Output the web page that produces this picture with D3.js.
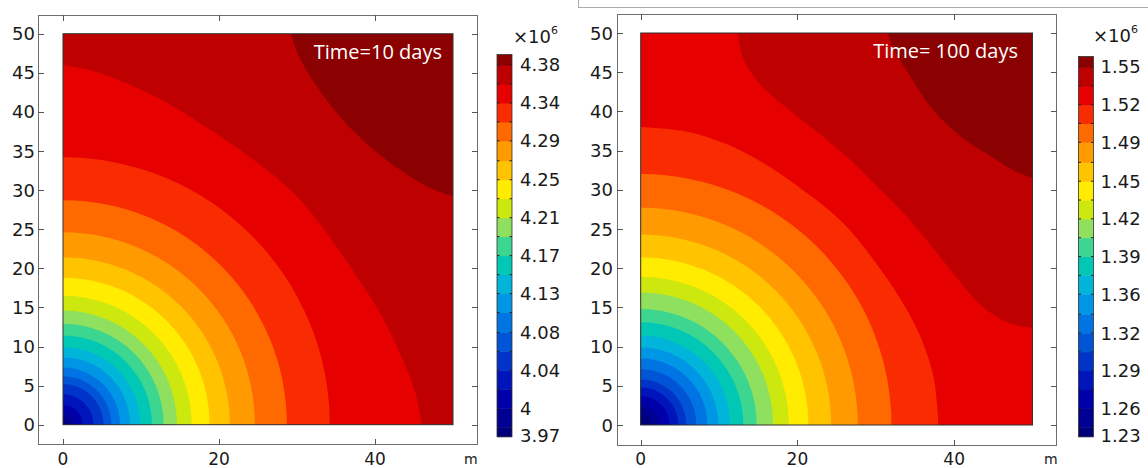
<!DOCTYPE html>
<html><head><meta charset="utf-8">
<script src="https://cdn.jsdelivr.net/npm/d3@7"></script>
<style>html,body{margin:0;padding:0;background:#fff;}svg{display:block;}</style>
</head><body>
<svg id="chart" width="1148" height="468"></svg>
<script>
// ---------------- DATA ----------------
const bandColors = ['#00007a','#000092','#0000aa','#0014bc','#0034c8','#0054d6','#0074e2','#0096e6',
  '#00b4da','#00c8b4','#3cd690','#8ee05e','#cce80e','#ffec00','#ffc300','#ff9b00','#ff6a00',
  '#f82c00','#e60000','#bf0000','#8b0000'];

const xTicks = [0, 20, 40];
const yTicks = [0, 5, 10, 15, 20, 25, 30, 35, 40, 45, 50];

// Left panel: Time = 10 days
const leftTitle = 'Time=10 days';
const leftRange = [3.9686, 4.3916];
const leftLevels = [3.979, 4.000, 4.021, 4.042, 4.063, 4.084, 4.106, 4.127, 4.148, 4.169,
  4.190, 4.211, 4.232, 4.253, 4.274, 4.296, 4.317, 4.338, 4.359, 4.380];
const leftTickValues = [3.970, 4.000, 4.042, 4.084, 4.127, 4.169, 4.211, 4.253, 4.296, 4.338, 4.380];
const leftTickLabels = ['3.97','4','4.04','4.08','4.13','4.17','4.21','4.25','4.29','4.34','4.38'];
// contour boundaries (m): circular ones by radius, outer ones by half-curve points (to the diagonal)
const leftCircleRadii = [0.7, 1.5, 2.5, 3.9, 5.2, 6.2, 7.3, 8.6, 9.9, 11.4, 12.9, 14.6, 16.5, 18.8, 21.4, 24.6, 28.7, 34.2];
const leftCurve18 = [[46,0],[45.2,4],[43.5,8.5],[40.8,14],[37.3,19.5],[33.6,24.8],[29.6,29.6]];
const leftCurve19 = [[50,29.2],[46.8,30.4],[43.2,32.6],[40.0,35.0],[37.4,37.4]];

// Right panel: Time = 100 days
const rightTitle = 'Time= 100 days';
const rightRange = [1.2360, 1.5589];
const rightLevels = [1.244, 1.260, 1.276, 1.292, 1.308, 1.324, 1.340, 1.357, 1.373, 1.389,
  1.405, 1.421, 1.437, 1.453, 1.469, 1.486, 1.502, 1.518, 1.534, 1.550];
const rightTickValues = [1.237, 1.260, 1.292, 1.324, 1.357, 1.389, 1.421, 1.453, 1.486, 1.518, 1.550];
const rightTickLabels = ['1.23','1.26','1.29','1.32','1.36','1.39','1.42','1.45','1.49','1.52','1.55'];
const rightCircleRadii = [1.35, 2.4, 3.7, 4.8, 5.8, 7.1, 8.5, 9.9, 11.4, 13.1, 14.8, 16.9, 18.9, 21.4, 24.3, 27.7, 32.0];
const rightCurve17 = [[38,0],[37.4,6],[35.8,11],[33.8,15],[30.5,20],[25.8,25.8]];
const rightCurve18 = [[50,12.4],[47,13.0],[43.5,15.2],[40,19.2],[36.5,23.6],[33.2,27.4],[30.3,30.3]];
const rightCurve19 = [[50,31.5],[47.5,32.5],[44.5,34.4],[41.5,36.3],[38.7,38.7]];

// ---------------- LAYOUT ----------------
const svg = d3.select('#chart');
const FONT = 'DejaVu Sans, sans-serif';

const panels = [
  { id:'L', title:leftTitle, range:leftRange, levels:leftLevels, tickValues:leftTickValues, tickLabels:leftTickLabels,
    circles:leftCircleRadii, curves:[{pts:leftCurve19, band:19},{pts:leftCurve18, band:18}],
    frame:[38,15,477,444], px:[63,453], py:[424.7,33.7], cb:[497,512,436.7,54.5], cbLabelX:520,
    yLabelX:35, mX:464, expX:513, expY:43, titleX:442, titleY:59 },
  { id:'R', title:rightTitle, range:rightRange, levels:rightLevels, tickValues:rightTickValues, tickLabels:rightTickLabels,
    circles:rightCircleRadii, curves:[{pts:rightCurve19, band:19},{pts:rightCurve18, band:18},{pts:rightCurve17, band:17}],
    frame:[617,14,1056,445], px:[640.7,1032.5], py:[425,33], cb:[1078.5,1093.5,436.7,56.5], cbLabelX:1100.5,
    yLabelX:613, mX:1044, expX:1093, expY:42, titleX:1018, titleY:58 }
];

// top border line of the second picture
svg.append('line').attr('x1',578).attr('x2',1148).attr('y1',7.5).attr('y2',7.5).attr('stroke','#aaa').attr('stroke-width',1);
svg.append('line').attr('x1',578.5).attr('x2',578.5).attr('y1',0).attr('y2',7.5).attr('stroke','#aaa').attr('stroke-width',1);

panels.forEach(p => {
  const g = svg.append('g');
  const x = d3.scaleLinear().domain([0,50]).range(p.px);
  const y = d3.scaleLinear().domain([0,50]).range(p.py);

  // frame
  const [fx0,fy0,fx1,fy1] = p.frame;
  g.append('rect').attr('x',fx0+0.5).attr('y',fy0+0.5).attr('width',fx1-fx0).attr('height',fy1-fy0)
    .attr('fill','none').attr('stroke','#6e6e6e').attr('stroke-width',1);
  const tl = 6;
  yTicks.forEach(t => {
    const yy = Math.round(y(t))+0.5;
    g.append('line').attr('x1',fx0).attr('x2',fx0+tl).attr('y1',yy).attr('y2',yy).attr('stroke','#555');
    g.append('line').attr('x1',fx1+1).attr('x2',fx1+1-tl).attr('y1',yy).attr('y2',yy).attr('stroke','#555');
    g.append('text').attr('x',p.yLabelX).attr('y',y(t)).attr('text-anchor','end').attr('dominant-baseline','central')
      .attr('font-family',FONT).attr('font-size',18).attr('fill','#1a1a1a').text(t);
  });
  xTicks.forEach(t => {
    const xx = Math.round(x(t))+0.5;
    g.append('line').attr('x1',xx).attr('x2',xx).attr('y1',fy1+1).attr('y2',fy1+1-tl).attr('stroke','#555');
    g.append('line').attr('x1',xx).attr('x2',xx).attr('y1',fy0).attr('y2',fy0+tl).attr('stroke','#555');
    g.append('text').attr('x',x(t)).attr('y',465).attr('text-anchor','middle')
      .attr('font-family',FONT).attr('font-size',17).attr('fill','#1a1a1a').text(t);
  });
  g.append('text').attr('x',p.mX).attr('y',464).attr('font-family',FONT).attr('font-size',14).attr('fill','#1a1a1a').text('m');

  // contour plot
  const clipId = 'clip'+p.id;
  g.append('clipPath').attr('id',clipId).append('rect')
    .attr('x',x(0)).attr('y',y(50)).attr('width',x(50)-x(0)).attr('height',y(0)-y(50));
  const cg = g.append('g').attr('clip-path',`url(#${clipId})`);
  cg.append('rect').attr('x',x(0)).attr('y',y(50)).attr('width',x(50)-x(0)).attr('height',y(0)-y(50))
    .attr('fill',bandColors[20]);
  const line = d3.line().x(d=>x(d[0])).y(d=>y(d[1])).curve(d3.curveCatmullRom.alpha(0.5));
  const full = half => half.concat(half.slice(0,-1).reverse().map(([a,b])=>[b,a]));
  p.curves.forEach(c => {
    const pts = full(c.pts);
    const corners = c.pts[0][0] >= 50 ? [[0,50],[0,0],[50,0]] : [[0,0]];
    const d = line(pts) + corners.map(q=>`L${x(q[0])},${y(q[1])}`).join('') + 'Z';
    cg.append('path').attr('d',d).attr('fill',bandColors[c.band]);
  });
  p.circles.map((r,i)=>({r,i})).reverse().forEach(({r,i}) => {
    cg.append('ellipse').attr('cx',x(0)).attr('cy',y(0)).attr('rx',x(r)-x(0)).attr('ry',y(0)-y(r))
      .attr('fill',bandColors[i]);
  });
  g.append('rect').attr('x',x(0)).attr('y',y(50)).attr('width',x(50)-x(0)).attr('height',y(0)-y(50))
    .attr('fill','none').attr('stroke','#333').attr('stroke-width',1);

  // title
  g.append('text').attr('x',p.titleX).attr('y',p.titleY).attr('text-anchor','end')
    .attr('font-family','Open Sans, sans-serif').attr('font-size',20).attr('fill','#fff').text(p.title);

  // colorbar
  const [cx0,cx1,cyb,cyt] = p.cb;
  const cy = d3.scaleLinear().domain(p.range).range([cyb,cyt]);
  const bands = d3.range(21).map(i => ({
    lo: i===0 ? p.range[0] : p.levels[i-1],
    hi: i===20 ? p.range[1] : p.levels[i], i }));
  g.selectAll(null).data(bands).enter().append('rect')
    .attr('x',cx0).attr('width',cx1-cx0)
    .attr('y',d=>cy(d.hi)).attr('height',d=>cy(d.lo)-cy(d.hi)+0.5)
    .attr('fill',d=>bandColors[d.i]);
  g.append('rect').attr('x',cx0).attr('y',cyt).attr('width',cx1-cx0).attr('height',cyb-cyt)
    .attr('fill','none').attr('stroke','#333').attr('stroke-width',0.8);
  p.levels.forEach(v => {
    const yy = cy(v);
    g.append('line').attr('x1',cx0).attr('x2',cx0+2.5).attr('y1',yy).attr('y2',yy).attr('stroke','#222');
    g.append('line').attr('x1',cx1).attr('x2',cx1-2.5).attr('y1',yy).attr('y2',yy).attr('stroke','#222');
  });
  p.tickValues.forEach((v,i) => {
    g.append('text').attr('x',p.cbLabelX).attr('y',cy(v)).attr('dominant-baseline','central')
      .attr('font-family',FONT).attr('font-size',18).attr('fill','#1a1a1a').text(p.tickLabels[i]);
  });
  const ex = g.append('text').attr('x',p.expX).attr('y',p.expY).attr('font-family',FONT).attr('font-size',18).attr('fill','#1a1a1a');
  ex.append('tspan').text('×10');
  ex.append('tspan').attr('font-size',11).attr('dy',-9).text('6');
});
</script>
</body></html>
